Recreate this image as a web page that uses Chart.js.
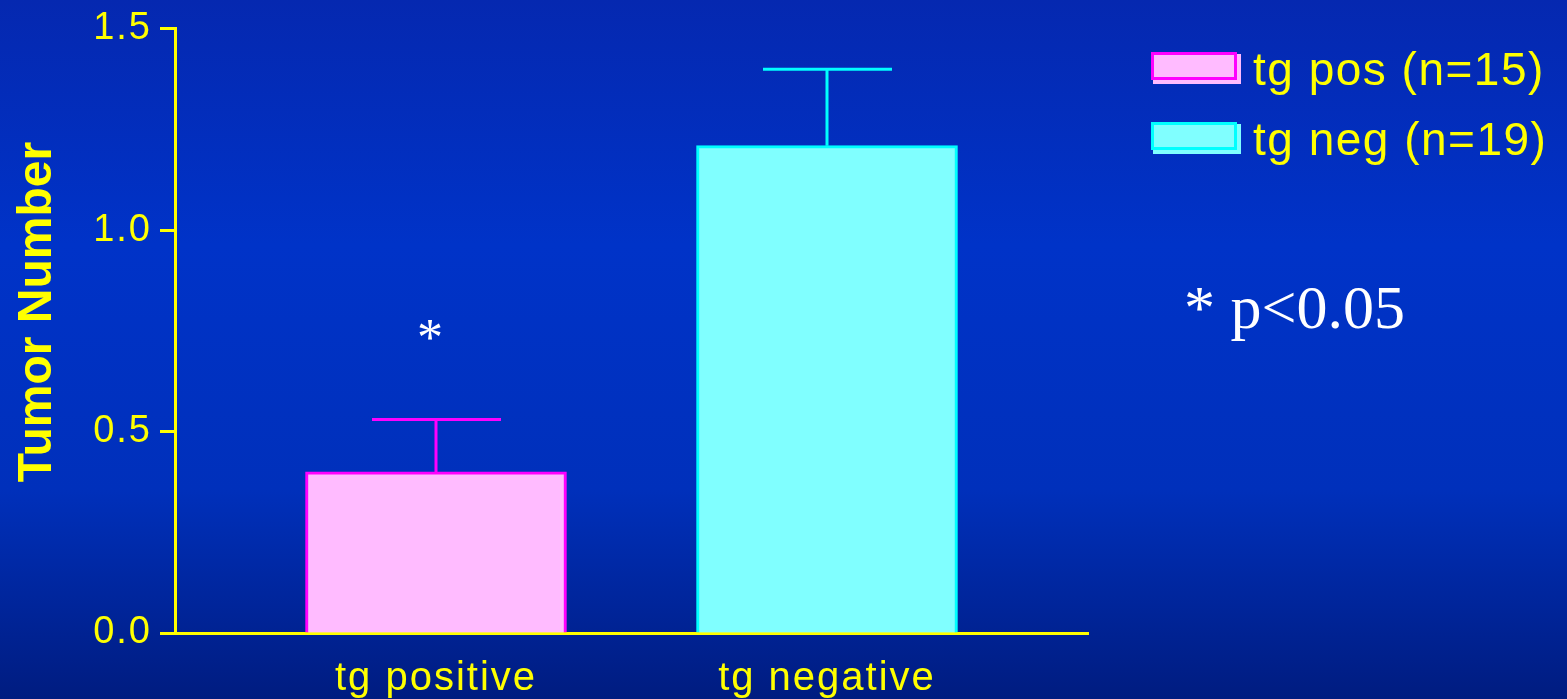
<!DOCTYPE html>
<html lang="en">
<head>
    <meta charset="UTF-8">
    <title>Tumor Number</title>
    <style>
        html, body { margin: 0; padding: 0; background: #0030c0; }
        .chart-container { width: 1567px; height: 699px; }
    </style>
</head>
<body>
    <div class="chart-container">
        <canvas id="tumorChart"></canvas>
    </div>

    <script src="https://cdn.jsdelivr.net/npm/chart.js@4.4.1/dist/chart.umd.min.js"></script>
    <script>
        // data
        const categories = ['tg positive', 'tg negative'];
        const seriesLabels = ['tg pos (n=15)', 'tg neg (n=19)'];
        const meanValues = [0.40, 1.21];
        const errorValues = [0.13, 0.19];
        const yTicks = [0.0, 0.5, 1.0, 1.5];
        const yTitle = 'Tumor Number';

        const fills = ['#ffbbff', '#80ffff'];
        const borders = ['#ff00ff', '#00ffff'];
        const yellow = '#ffff00';

        const datasets = meanValues.map((v, i) => ({
            label: seriesLabels[i],
            data: [{ x: i + 1, y: v }],
            backgroundColor: fills[i],
            borderColor: borders[i],
            borderWidth: 3,
            borderSkipped: 'bottom',
            barThickness: 261,
            grouped: false
        }));

        // slide background
        const background = {
            id: 'background',
            beforeDraw(chart) {
                const { ctx, width, height } = chart;
                const g = ctx.createLinearGradient(0, 0, 0, height);
                g.addColorStop(0, '#0528b0');
                g.addColorStop(0.35, '#0033c8');
                g.addColorStop(0.7, '#0030bb');
                g.addColorStop(1, '#001c80');
                ctx.save();
                ctx.fillStyle = g;
                ctx.fillRect(0, 0, width, height);
                ctx.restore();
                ctx.letterSpacing = '2px';
            }
        };

        // upper error bars
        const errorBars = {
            id: 'errorBars',
            afterDatasetsDraw(chart) {
                const { ctx, scales: { x, y } } = chart;
                ctx.save();
                ctx.lineWidth = 3;
                meanValues.forEach((v, i) => {
                    const cx = x.getPixelForValue(i + 1);
                    const y0 = y.getPixelForValue(v);
                    const y1 = y.getPixelForValue(v + errorValues[i]);
                    ctx.strokeStyle = borders[i];
                    ctx.beginPath();
                    ctx.moveTo(cx, y0);
                    ctx.lineTo(cx, y1);
                    ctx.moveTo(cx - 64, y1);
                    ctx.lineTo(cx + 65, y1);
                    ctx.stroke();
                });
                ctx.restore();
            }
        };

        // legend, axis title, significance star and note
        const extras = {
            id: 'extras',
            afterDraw(chart) {
                const { ctx, scales: { x, y } } = chart;
                ctx.save();
                ctx.letterSpacing = '1.5px';
                seriesLabels.forEach((lab, i) => {
                    const top = 52 + i * 70;
                    ctx.fillStyle = fills[i];
                    ctx.fillRect(1153, top + 2, 88, 30);
                    ctx.fillRect(1151, top, 86, 28);
                    ctx.strokeStyle = borders[i];
                    ctx.lineWidth = 3;
                    ctx.strokeRect(1152.5, top + 1.5, 83, 25);
                    ctx.fillStyle = yellow;
                    ctx.font = '46px Arial, "Liberation Sans", sans-serif';
                    ctx.textAlign = 'left';
                    ctx.textBaseline = 'middle';
                    ctx.fillText(lab, 1253, top + 20);
                });
                ctx.letterSpacing = '0px';

                // rotated y title
                ctx.save();
                ctx.translate(38, 312);
                ctx.rotate(-Math.PI / 2);
                ctx.fillStyle = yellow;
                ctx.font = 'bold 48px Arial, "Liberation Sans", sans-serif';
                ctx.textAlign = 'center';
                ctx.textBaseline = 'middle';
                ctx.fillText(yTitle, 0, 0);
                ctx.restore();

                ctx.fillStyle = '#ffffff';
                ctx.font = '52px "Liberation Serif", "Times New Roman", serif';
                ctx.textAlign = 'center';
                ctx.textBaseline = 'middle';
                ctx.fillText('*', x.getPixelForValue(1) - 6, y.getPixelForValue(meanValues[0] + errorValues[0]) - 78);
                ctx.font = '62px "Liberation Serif", "Times New Roman", serif';
                ctx.textAlign = 'left';
                ctx.fillText('* p<0.05', 1184, 312);
                ctx.restore();
            }
        };

        const ctx = document.getElementById('tumorChart').getContext('2d');
        const myChart = new Chart(ctx, {
            type: 'bar',
            data: { datasets: datasets },
            options: {
                responsive: true,
                maintainAspectRatio: false,
                animation: false,
                layout: { padding: { left: 0, top: 27, right: 479, bottom: 0 } },
                plugins: {
                    legend: { display: false },
                    tooltip: { enabled: false }
                },
                scales: {
                    x: {
                        type: 'linear',
                        offset: false,
                        min: 0.3325,
                        max: 2.6675,
                        afterBuildTicks(scale) {
                            scale.ticks = categories.map((c, i) => ({ value: i + 1 }));
                        },
                        afterFit(scale) { scale.height = 66; },
                        grid: { display: false, drawTicks: false },
                        border: { display: true, color: yellow, width: 3 },
                        ticks: {
                            color: yellow,
                            padding: 22,
                            font: { family: 'Arial, "Liberation Sans", sans-serif', size: 40 },
                            callback: (v) => categories[v - 1] || ''
                        }
                    },
                    y: {
                        min: 0,
                        max: 1.5,
                        afterBuildTicks(scale) {
                            scale.ticks = yTicks.map(v => ({ value: v }));
                        },
                        afterFit(scale) { scale.width = 175; },
                        grid: {
                            drawOnChartArea: false,
                            drawTicks: true,
                            tickLength: 15,
                            tickWidth: 3,
                            color: yellow
                        },
                        border: { display: true, color: yellow, width: 3 },
                        ticks: {
                            color: yellow,
                            padding: 8,
                            font: { family: 'Arial, "Liberation Sans", sans-serif', size: 38, lineHeight: 1.1 },
                            callback: (v) => v.toFixed(1)
                        },
                        title: { display: false }
                    }
                }
            },
            plugins: [background, errorBars, extras]
        });
    </script>
</body>
</html>
